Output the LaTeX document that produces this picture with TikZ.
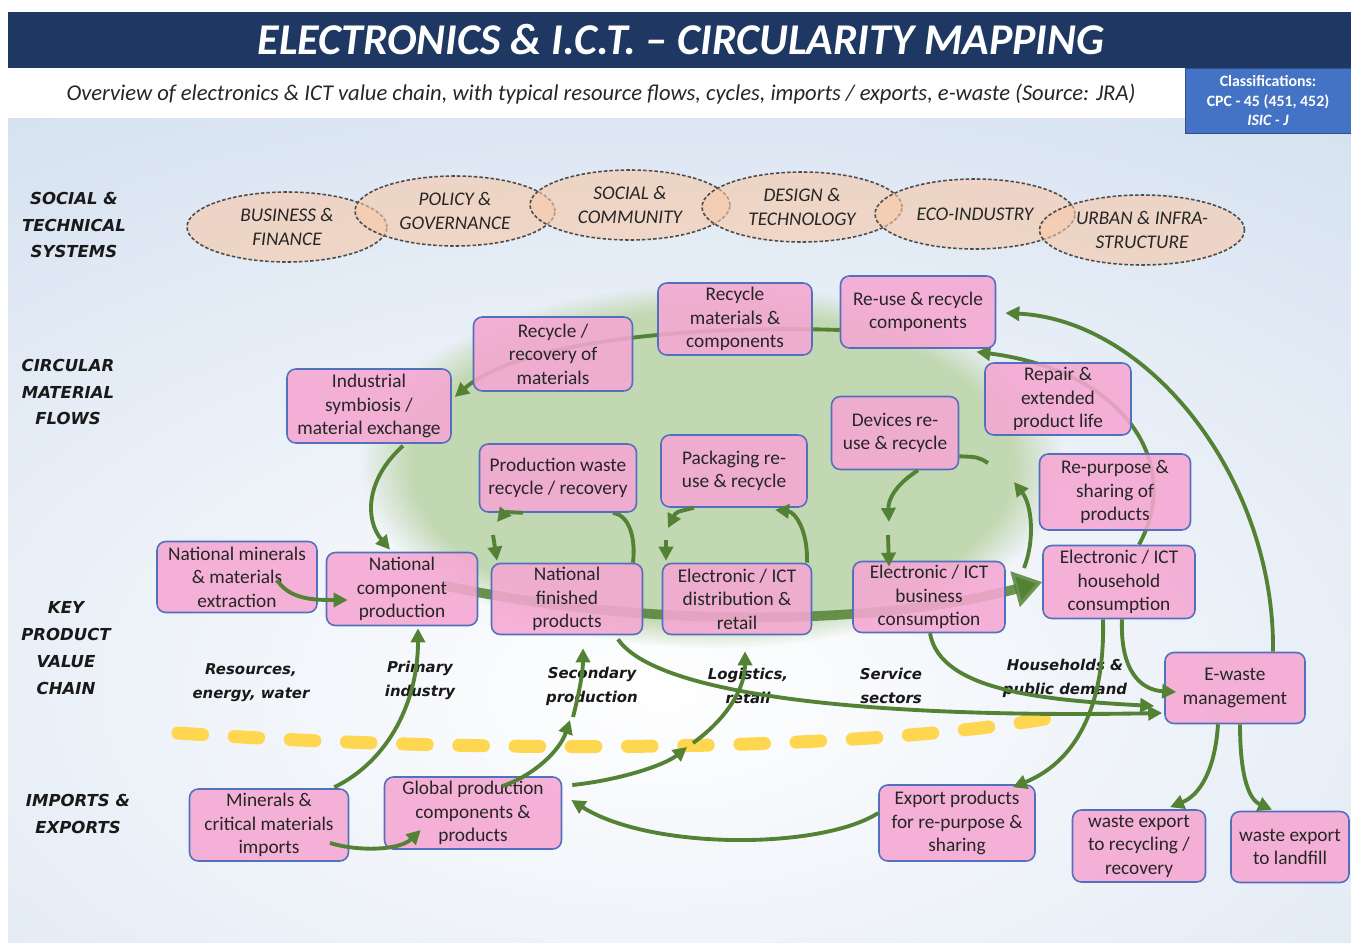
\documentclass[tikz,border=0pt]{standalone}
\usepackage{fontspec}
\setmainfont{Carlito}
\newfontfamily\lblfont{DejaVu Sans}
\usetikzlibrary{arrows.meta, calc, shapes.geometric, fadings}
\definecolor{navy}{RGB}{31,55,99}
\definecolor{clsblue}{RGB}{68,114,196}
\definecolor{bgblue}{RGB}{214,226,241}
\definecolor{boxpink}{RGB}{245,167,210}
\definecolor{boxline}{RGB}{82,112,190}
\definecolor{flow}{RGB}{84,130,53}
\definecolor{sage}{RGB}{194,216,178}
\definecolor{peach}{RGB}{247,200,168}
\definecolor{dashyellow}{RGB}{255,214,80}
\tikzfading[name=fade out, inner color=transparent!0, outer color=transparent!100]
\pgfdeclarelayer{bg}
\pgfdeclarelayer{back}
\pgfsetlayers{bg,back,main}

\begin{document}
\begin{tikzpicture}[x=0.02cm, y=-0.02cm,
  >={Triangle[length=8pt,width=8pt]},
  box/.style={draw=boxline, line width=0.9pt, fill=boxpink, fill opacity=0.88, text opacity=1,
    rounded corners=5pt, align=center, minimum height=1.44cm, inner sep=2pt,
    text=black!85, font=\fontsize{11}{13.4}\selectfont},
  sys/.style={ellipse, draw=black!70, dash pattern=on 2pt off 1.2pt, line width=0.9pt,
    fill=peach, fill opacity=0.6, text opacity=1, align=center, minimum width=4cm,
    minimum height=1.4cm, text=black!85, font=\fontsize{11}{13.6}\itshape},
  row/.style={align=center, text=black!90, font=\lblfont\bfseries\itshape\fontsize{9.4}{15.3}\selectfont},
  sector/.style={align=center, text=black!90, font=\lblfont\bfseries\itshape\fontsize{8.5}{13.6}\selectfont},
  flw/.style={draw=flow, line width=2.2pt, ->},
]
\useasboundingbox (0,0) rectangle (1351,943);

\begin{pgfonlayer}{bg}
\fill[white] (0,0) rectangle (1351,943);
\fill[bgblue] (8,118) rectangle (1351,943);
\fill[white, path fading=fade out] (660,690) ellipse (1250 and 680);
\fill[sage, path fading=circle with fuzzy edge 15 percent] (712,466) ellipse (352 and 182);
\fill[navy] (8,12) rectangle (1351,68);
\draw[dashyellow, line width=7.4pt, line cap=round, dash pattern=on 14pt off 18pt]
  (178,733) .. controls (450,752) and (850,755) .. (1062,716);
\end{pgfonlayer}

\node[text=white, font=\fontsize{25}{30}\bfseries\itshape] (title) at (681,40)
  {ELECTRONICS \& I.C.T. -- CIRCULARITY MAPPING};
\node[font=\fontsize{12.85}{15}\itshape, text=black!85] (subtitle) at (601,94)
  {Overview of electronics \& ICT value chain, with typical resource flows, cycles, imports / exports, e-waste (Source: JRA)};
\node[fill=clsblue, draw=clsblue!70!black, minimum width=3.32cm, minimum height=1.3cm, inner sep=1pt,
  text=white, align=center, font=\fontsize{9}{11.3}\bfseries\selectfont] (classif) at (1268,100.5)
  {Classifications:\\CPC - 45 (451, 452)\\\textit{ISIC - J}};

\node[row] (rowsys) at (74,225) {SOCIAL \&\\TECHNICAL\\SYSTEMS};
\node[row] (rowflow) at (68,392) {CIRCULAR\\MATERIAL\\FLOWS};
\node[row] (rowchain) at (66,648) {KEY\\PRODUCT\\VALUE\\CHAIN};
\node[row] (rowimp) at (78,814) {IMPORTS \&\\EXPORTS};

\node[sys] (business) at (287,227) {BUSINESS \&\\FINANCE};
\node[sys] (policy) at (455,211) {POLICY \&\\GOVERNANCE};
\node[sys] (social) at (630,205) {SOCIAL \&\\COMMUNITY};
\node[sys] (design) at (802,207) {DESIGN \&\\TECHNOLOGY};
\node[sys] (eco) at (975,214) {ECO-INDUSTRY};
\node[sys, minimum width=4.1cm] (urban) at (1142,230) {URBAN \& INFRA-\\STRUCTURE};

\node[box, minimum width=3.2cm, minimum height=1.42cm] (natmin) at (237,577) {National minerals\\\& materials\\extraction};
\node[box, minimum width=3.02cm, minimum height=1.46cm] (natcomp) at (402,589) {National\\component\\production};
\node[box, minimum width=3.02cm, minimum height=1.42cm] (natfin) at (567,599) {National\\finished\\products};
\node[box, minimum width=2.98cm, minimum height=1.42cm] (distr) at (737,599) {Electronic / ICT\\distribution \&\\retail};
\node[box, minimum width=3.04cm, minimum height=1.42cm] (busc) at (929,597) {Electronic / ICT\\business\\consumption};
\node[box, minimum width=3.04cm, minimum height=1.46cm] (housc) at (1119,582) {Electronic / ICT\\household\\consumption};
\node[box, minimum width=2.8cm, minimum height=1.42cm] (ewaste) at (1235,688) {E-waste\\management};
\node[box, minimum width=3.28cm, minimum height=1.48cm] (indsym) at (369,406) {Industrial\\symbiosis /\\material exchange};
\node[box, minimum width=3.18cm, minimum height=1.48cm] (recrec) at (553,354) {Recycle /\\recovery of\\materials};
\node[box, minimum width=3.08cm] (recmat) at (735,319) {Recycle\\materials \&\\components};
\node[box, minimum width=3.1cm] (reuse) at (918,312) {Re-use \& recycle\\components};
\node[box, minimum width=2.92cm] (repair) at (1058,399) {Repair \&\\extended\\product life};
\node[box, minimum width=2.54cm, minimum height=1.46cm] (devices) at (895,433) {Devices re-\\use \& recycle};
\node[box, minimum width=3.02cm, minimum height=1.52cm] (repurp) at (1115,492) {Re-purpose \&\\sharing of\\products};
\node[box, minimum width=3.14cm, minimum height=1.36cm] (prodw) at (558,478) {Production waste\\recycle / recovery};
\node[box, minimum width=2.92cm] (pack) at (734,471) {Packaging re-\\use \& recycle};
\node[box, minimum width=3.18cm] (minimp) at (269,825) {Minerals \&\\critical materials\\imports};
\node[box, minimum width=3.54cm] (global) at (473,813) {Global production\\components \&\\products};
\node[box, minimum width=3.12cm, minimum height=1.52cm] (export) at (957,823) {Export products\\for re-purpose \&\\sharing};
\node[box, minimum width=2.66cm] (wrec) at (1139,846) {waste export\\to recycling /\\recovery};
\node[box, minimum width=2.36cm, minimum height=1.42cm] (wland) at (1290,847) {waste export\\to landfill};

\node[sector] (resources) at (251,683) {Resources,\\energy, water};
\node[sector] (primary) at (420,680) {Primary\\industry};
\node[sector] (secondary) at (592,686) {Secondary\\production};
\node[sector] (logistics) at (748,686) {Logistics,\\retail};
\node[sector] (service) at (891,686) {Service\\sectors};
\node[sector] (households) at (1065,678) {Households \&\\public demand};

\coordinate (cycA) at (1024,568);
\coordinate (cycB) at (1014,482);
\coordinate (cycC) at (988,463);
\coordinate (cycD) at (889,522);
\coordinate (cycE) at (888,535);
\coordinate (prodA) at (497,522);
\coordinate (prodB) at (493,535);
\coordinate (packA) at (668,528);
\coordinate (packB) at (666,540);
\coordinate (globA) at (687,747);
\coordinate (globB) at (693,743);
\coordinate (globC) at (570,720);
\coordinate (globD) at (573,717);

\begin{pgfonlayer}{back}
\draw[draw=flow, line width=5.5pt, draw opacity=0.85, -{Triangle[length=16pt,width=20pt]}]
  ($(natcomp)+(40,-4)$) .. controls (650,630) and (880,625) .. (housc.west);
\draw[flw] ($(reuse.west)+(0,18)$) .. controls (700,325) and (520,340) .. ($(indsym.east)+(3,-9)$);
\draw[flw] ($(housc.north)+(20,0)$) .. controls (1185,460) and (1120,370) .. ($(reuse.south east)+(-20,3)$);
\draw[flw, -] (cycC) .. controls (978,457) .. ($(devices.south east)+(0,-14)$);
\draw[flw, -] ($(natfin.north)+(66,0)$) .. controls (636,535) and (628,515) .. ($(prodw.south)+(55,0)$);
\end{pgfonlayer}

\draw[flw] ($(ewaste.north)+(38,0)$) .. controls (1275,480) and (1150,320) .. ($(reuse.east)+(9,1)$);
\draw[flw] ($(indsym.south)+(34,2)$) .. controls (365,480) and (365,520) .. ($(natcomp.north)+(-12,-2)$);
\draw[flw] ($(natmin)+(40,3)$) .. controls (290,600) and (315,600) .. ($(natcomp.west)+(22,11)$);
\draw[flw] (cycA) .. controls (1035,540) and (1032,505) .. (cycB);
\draw[flw] ($(devices.south)+(23,0)$) .. controls (895,485) and (888,500) .. (cycD);
\draw[flw] (cycE) -- ($(busc.north)+(-40,6)$);
\draw[flw] ($(prodw.south)+(-35,0)$) .. controls (505,512) .. (prodA);
\draw[flw] (prodB) -- ($(natfin.north)+(-70,-2)$);
\draw[flw] ($(pack.south)+(-40,0)$) .. controls (676,512) .. (packA);
\draw[flw] (packB) -- ($(distr.north)+(-71,-2)$);
\draw[flw] ($(distr.north)+(70,0)$) .. controls (808,530) and (795,512) .. ($(pack.south)+(41,2)$);
\draw[flw] ($(natfin.south)+(51,4)$) .. controls (660,700) and (900,718) .. ($(ewaste.west)+(-2,25)$);
\draw[flw] ($(busc.south)+(1,0)$) .. controls (940,690) and (1040,700) .. ($(ewaste.west)+(-10,18)$);
\draw[flw] ($(housc.south)+(3,0)$) .. controls (1120,670) and (1140,690) .. ($(ewaste.west)+(12,4)$);
\draw[flw] ($(housc.south)+(-16,0)$) .. controls (1105,700) and (1080,760) .. ($(export.north east)+(-23,3)$);
\draw[flw] ($(export.west)+(0,-10)$) .. controls (820,850) and (650,850) .. ($(global.east)+(9,-13)$);
\draw[flw] ($(global.east)+(10,-28)$) .. controls (620,780) and (665,765) .. (globA);
\draw[flw] (globB) .. controls (725,720) and (745,690) .. ($(distr.south)+(8,16)$);
\draw[flw] ($(global.north)+(29,10)$) .. controls (535,775) and (560,750) .. (globC);
\draw[flw] (globD) .. controls (580,690) and (583,670) .. ($(natfin.south)+(16,13)$);
\draw[flw] ($(minimp.north east)+(-15,-1)$) .. controls (390,760) and (418,700) .. ($(natcomp.south)+(16,2)$);
\draw[flw] ($(minimp)+(61,18)$) .. controls (360,852) and (400,850) .. ($(global.west)+(37,17)$);
\draw[flw] ($(ewaste.south)+(-17,0)$) .. controls (1215,770) and (1200,795) .. ($(wrec.north)+(31,-2)$);
\draw[flw] ($(ewaste.south)+(5,0)$) .. controls (1240,780) and (1250,800) .. ($(wland.north)+(-18,-1)$);
\end{tikzpicture}
\end{document}
